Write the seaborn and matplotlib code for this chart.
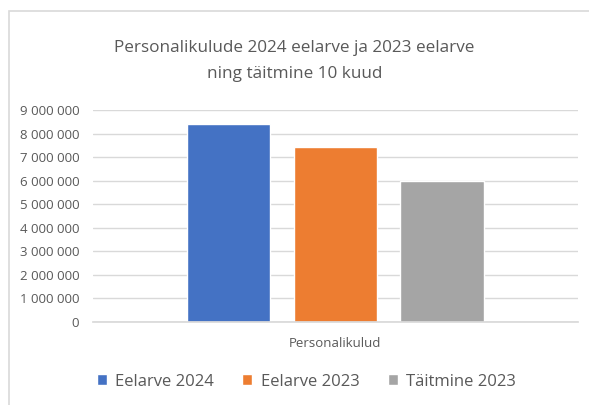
import matplotlib
matplotlib.use("Agg")
import matplotlib.pyplot as plt
import seaborn as sns
import pandas as pd
from matplotlib.patches import Rectangle
from matplotlib.ticker import FuncFormatter

# data
categories = ["Personalikulud"]
series = ["Eelarve 2024", "Eelarve 2023", "Täitmine 2023"]
values = [8410000, 7440000, 5980000]
colors = ["#4472C4", "#ED7D31", "#A5A5A5"]

df = pd.DataFrame({
    "kategooria": categories * len(series),
    "seeria": series,
    "summa": values,
})

sns.set_theme(style="white")
plt.rcParams["font.family"] = ["Open Sans", "DejaVu Sans"]
text_color = "#595959"

fig = plt.figure(figsize=(5.89, 4.05), dpi=100)
ax = fig.add_axes([0.158, 0.205, 0.823, 0.523])

sns.barplot(data=df, x="kategooria", y="summa", hue="seeria",
            palette=colors, width=0.662, gap=0.216, saturation=1,
            ax=ax, legend=True)

ax.set_ylim(0, 9000000)
ax.set_yticks(range(0, 9000001, 1000000))
ax.yaxis.set_major_formatter(FuncFormatter(lambda v, p: f"{int(v):,}".replace(",", " ")))
ax.grid(axis="y", color="#D9D9D9", linewidth=1)
ax.set_axisbelow(True)
for side in ["top", "right", "left"]:
    ax.spines[side].set_visible(False)
ax.spines["bottom"].set_color("#D9D9D9")
ax.tick_params(axis="y", length=0, pad=10, labelsize=9.5, labelcolor=text_color)
ax.tick_params(axis="x", length=0, pad=11, labelsize=9.5, labelcolor=text_color)
ax.set_xlabel("")
ax.set_ylabel("")

fig.text(0.5, 0.849, "Personalikulude 2024 eelarve ja 2023 eelarve\nning täitmine 10 kuud",
         ha="center", va="center", fontsize=12.3, color=text_color, linespacing=1.8)

handles, labels = ax.get_legend_handles_labels()
ax.legend_.remove()
fig.legend(handles, labels, loc="center", bbox_to_anchor=(0.52, 0.058), ncol=3,
           frameon=False, fontsize=12, labelcolor=text_color,
           handlelength=0.6, handleheight=0.6, handletextpad=0.5, columnspacing=1.7)

# light frame around the chart area
fig.patches.append(Rectangle((9 / 589, -0.1), 1.2, 1 - 11 / 405 + 0.1,
                             transform=fig.transFigure, fill=False,
                             edgecolor="#D9D9D9", linewidth=1.2))

fig.savefig("out.png", dpi=100)
